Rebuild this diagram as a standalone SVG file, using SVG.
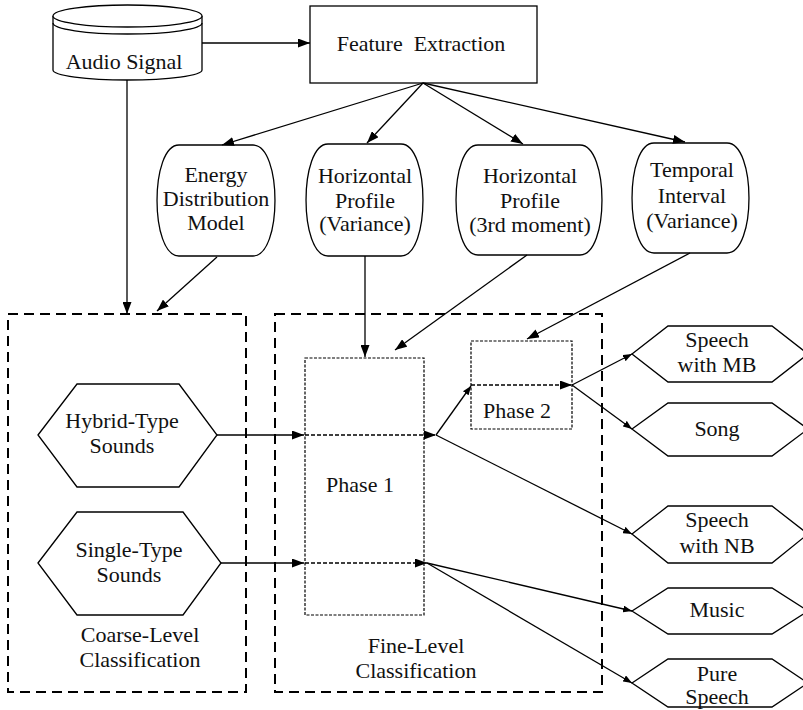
<svg xmlns="http://www.w3.org/2000/svg" width="803" height="710" viewBox="0 0 803 710" font-family="'Liberation Serif', 'DejaVu Serif', serif">
<style>
text{font-family:'Liberation Serif','DejaVu Serif',serif;font-size:22px;fill:#111;text-anchor:middle}
.s{fill:#fff;stroke:#000;stroke-width:1.3}
.c{fill:none;stroke:#000;stroke-width:1.3}
.big{marker-end:url(#ab)}
.sm{marker-end:url(#as)}
.grp{fill:none;stroke:#000;stroke-width:2;stroke-dasharray:10 6}
.ph{fill:none;stroke:#000;stroke-width:1.2;stroke-dasharray:3 1.5}
.dl{fill:none;stroke:#000;stroke-width:1.3;stroke-dasharray:4 2}
</style>
<defs>
<marker id="ab" markerUnits="userSpaceOnUse" markerWidth="12" markerHeight="9" refX="12" refY="4.5" orient="auto"><path d="M0,0 L12,4.5 L0,9 Z" fill="#000"/></marker>
<marker id="as" markerUnits="userSpaceOnUse" markerWidth="9" markerHeight="7" refX="9" refY="3.5" orient="auto"><path d="M0,0 L9,3.5 L0,7 Z" fill="#000"/></marker>
</defs>
<g id="coarse-group"><rect class="grp" x="8" y="314" width="238" height="378"/><text x="140" y="642">Coarse-Level</text><text x="140" y="667">Classification</text></g>
<g id="fine-group"><rect class="grp" x="275" y="314" width="327" height="378"/><text x="416" y="653">Fine-Level</text><text x="416" y="678">Classification</text></g>
<g id="audio"><path class="s" d="M53,16 V70 A74.5,10 0 0 0 202,70 V16"/><ellipse class="s" cx="127.5" cy="16" rx="74.5" ry="11"/><path class="c" d="M53,23 A74.5,11 0 0 0 202,23"/><text x="124" y="69">Audio Signal</text></g>
<g id="feature"><rect class="s" x="310" y="6" width="227" height="77"/><text x="421" y="51" xml:space="preserve">Feature  Extraction</text></g>
<g id="energy"><path class="s" d="M179,145 H253 C282.3,145 282.3,256 253,256 H179 C149.7,256 149.7,145 179,145Z"/><text x="216" y="182">Energy</text><text x="216" y="206">Distribution</text><text x="216" y="230">Model</text></g>
<g id="hpv"><path class="s" d="M328,144 H401 C430.3,144 430.3,256 401,256 H328 C298.7,256 298.7,144 328,144Z"/><text x="365" y="183">Horizontal</text><text x="365" y="208">Profile</text><text x="365" y="231">(Variance)</text></g>
<g id="hp3"><path class="s" d="M478,145 H580 C609.3,145 609.3,255 580,255 H478 C448.7,255 448.7,145 478,145Z"/><text x="530" y="183">Horizontal</text><text x="530" y="208">Profile</text><text x="530" y="232">(3rd moment)</text></g>
<g id="ti"><path class="s" d="M654,143 H727 C756.3,143 756.3,253 727,253 H654 C624.7,253 624.7,143 654,143Z"/><text x="692" y="177">Temporal</text><text x="692" y="203">Interval</text><text x="692" y="228">(Variance)</text></g>
<g id="hybrid"><polygon class="s" points="38,435 77,384 179,384 217,435 179,487 77,487"/><text x="122" y="428">Hybrid-Type</text><text x="122" y="453">Sounds</text></g>
<g id="single"><polygon class="s" points="38,563 77,512 183,512 221,563 183,615 77,615"/><text x="129" y="557">Single-Type</text><text x="129" y="582">Sounds</text></g>
<g id="phase1"><rect class="ph" x="305" y="358" width="119" height="257"/><text x="360" y="492">Phase 1</text></g>
<g id="phase2"><rect class="ph" x="471" y="341" width="101" height="88"/><text x="517" y="418">Phase 2</text></g>
<g id="speech-mb"><polygon class="s" points="632,354 668,326 772,326 808,354 772,382 668,382"/><text x="717" y="347">Speech</text><text x="717" y="372">with MB</text></g>
<g id="song"><polygon class="s" points="632,429 668,403 772,403 808,429 772,456 668,456"/><text x="717" y="436">Song</text></g>
<g id="speech-nb"><polygon class="s" points="632,534 668,506 772,506 808,534 772,563 668,563"/><text x="717" y="527">Speech</text><text x="717" y="553">with NB</text></g>
<g id="music"><polygon class="s" points="632,611 668,588 772,588 808,611 772,634 668,634"/><text x="717" y="617">Music</text></g>
<g id="pure-speech"><polygon class="s" points="632,683 668,659 772,659 808,683 772,707 668,707"/><text x="717" y="681">Pure</text><text x="717" y="704">Speech</text></g>
<g id="connectors">
<path class="c big" d="M202,43 H310"/>
<path class="c big" d="M423,83 L222,145"/>
<path class="c big" d="M423,83 L367,143"/>
<path class="c big" d="M423,83 L523,144"/>
<path class="c big" d="M423,83 L685,142"/>
<path class="c big" d="M127,80 V314"/>
<path class="c big" d="M217,257 L157,311"/>
<path class="c big" d="M365,256 V357"/>
<path class="c big" d="M527,255 L395,350"/>
<path class="c big" d="M690,253 L527,339"/>
<path class="c big" d="M217,435 H304"/>
<path class="dl big" d="M305,435 H436"/>
<path class="c sm" d="M436,435 L471,386"/>
<path class="dl big" d="M471,385 H572"/>
<path class="c sm" d="M572,385 L632,354"/>
<path class="c sm" d="M572,385 L632,429"/>
<path class="c sm" d="M436,435 L632,534"/>
<path class="c big" d="M221,563 H304"/>
<path class="dl big" d="M305,563 H427"/>
<path class="c sm" d="M427,563 L632,611"/>
<path class="c sm" d="M427,563 L632,683"/>
</g>
</svg>
